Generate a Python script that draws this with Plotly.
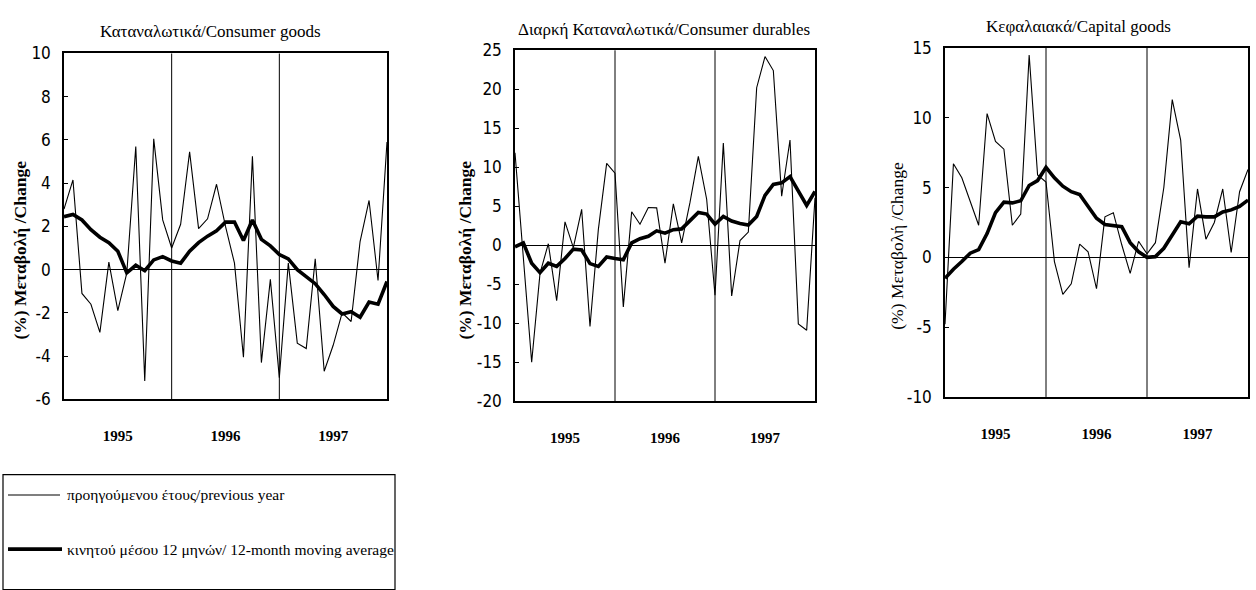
import plotly.graph_objects as go

W, H = 1256, 590

months = list(range(37))
year_ticks = [6, 18, 30]
year_labels = ["1995", "1996", "1997"]
year_bounds = [12, 24]

titles = ["Καταναλωτικά/Consumer goods",
          "Διαρκή Καταναλωτικά/Consumer durables",
          "Κεφαλαιακά/Capital goods"]
ytitle = "(%) Μεταβολή /Change"

consumer_yoy = [2.8, 4.15, -1.1, -1.6, -2.9, 0.35, -1.9, -0.15, 5.7, -5.15, 6.05, 2.3,
                1.0, 2.1, 5.45, 1.9, 2.35, 3.95, 2.0, 0.3, -4.05, 5.25, -4.3, -0.45,
                -5.0, 0.3, -3.4, -3.65, 0.5, -4.7, -3.5, -2.0, -2.4, 1.3, 3.2, -0.5, 5.9]
consumer_ma = [2.45, 2.55, 2.3, 1.85, 1.5, 1.25, 0.85, -0.15, 0.2, -0.05, 0.45, 0.6,
               0.4, 0.3, 0.85, 1.25, 1.55, 1.8, 2.2, 2.2, 1.35, 2.3, 1.4, 1.1,
               0.7, 0.5, 0.0, -0.35, -0.65, -1.15, -1.7, -2.05, -1.95, -2.2, -1.5, -1.6, -0.55]

durables_yoy = [11.85, -1.5, -15.0, -3.6, 0.2, -7.1, 3.0, -0.3, 4.6, -10.4, 2.0, 10.5,
                9.25, -7.9, 4.3, 2.7, 4.85, 4.8, -2.3, 5.3, 0.3, 5.5, 11.4, 5.9,
                -6.4, 13.1, -6.5, 0.6, 1.7, 20.2, 24.2, 22.4, 6.3, 13.5, -10.1, -10.9, 6.1]
durables_ma = [-0.2, 0.3, -2.3, -3.5, -2.3, -2.7, -1.7, -0.5, -0.6, -2.35, -2.7, -1.5,
               -1.7, -1.85, 0.3, 0.85, 1.15, 1.85, 1.55, 2.0, 2.1, 3.2, 4.2, 4.0,
               2.7, 3.7, 3.1, 2.8, 2.6, 3.7, 6.4, 7.8, 8.0, 8.8, 6.9, 5.1, 6.9]

capital_yoy = [-4.8, 6.7, 5.7, 4.0, 2.3, 10.3, 8.3, 7.75, 2.3, 3.1, 14.5, 5.9,
               5.4, -0.3, -2.65, -1.9, 0.95, 0.4, -2.25, 2.9, 3.2, 0.9, -1.15, 1.15,
               0.25, 1.05, 5.0, 11.3, 8.4, -0.75, 4.9, 1.3, 2.5, 4.9, 0.35, 4.7, 6.3]
capital_ma = [-1.5, -0.85, -0.3, 0.3, 0.55, 1.7, 3.2, 3.95, 3.9, 4.05, 5.15, 5.5,
              6.45, 5.7, 5.1, 4.7, 4.5, 3.6, 2.8, 2.35, 2.3, 2.2, 1.05, 0.4,
              0.0, 0.05, 0.65, 1.55, 2.55, 2.4, 2.95, 2.9, 2.9, 3.25, 3.4, 3.65, 4.1]

series = [(consumer_yoy, consumer_ma), (durables_yoy, durables_ma), (capital_yoy, capital_ma)]
y_ticks = [[-6, -4, -2, 0, 2, 4, 6, 8, 10],
           [-20, -15, -10, -5, 0, 5, 10, 15, 20, 25],
           [-10, -5, 0, 5, 10, 15]]

legend_labels = ["προηγούμενου έτους/previous year",
                 "κινητού μέσου 12 μηνών/ 12-month moving average"]

# pixel boxes of the three plot areas (left, right, top, bottom)
boxes = [(64, 387, 45, 403), (515, 815, 41.7, 405), (945, 1248, 39.3, 400.5)]
title_pos = [(210, 22), (664, 20), (1078, 17)]
ytitle_pos = [(20, 249, True), (465, 249, True), (897, 244, False)]

def px(x):
    return x / W

def py(y):
    return 1 - y / H

SERIF = "Liberation Serif, Times New Roman, serif"
NARROW = "Liberation Sans Narrow, DejaVu Sans Condensed, Arial Narrow, sans-serif"

fig = go.Figure()
layout = dict(width=W, height=H, margin=dict(l=0, r=0, t=0, b=0),
              paper_bgcolor="white", plot_bgcolor="white", showlegend=False)
shapes = []
annotations = []

for i, ((yoy, ma), yt, (l, r, t, b)) in enumerate(zip(series, y_ticks, boxes)):
    n = "" if i == 0 else str(i + 1)
    xa, ya = "x" + n, "y" + n
    fig.add_trace(go.Scatter(x=months, y=yoy, mode="lines", xaxis=xa, yaxis=ya,
                             line=dict(color="black", width=1.1), name=legend_labels[0]))
    fig.add_trace(go.Scatter(x=months, y=ma, mode="lines", xaxis=xa, yaxis=ya,
                             line=dict(color="black", width=3.6), name=legend_labels[1]))
    layout["xaxis" + n] = dict(domain=[px(l), px(r)], range=[0, 36], anchor=ya,
                               showgrid=False, zeroline=False, showline=True, mirror=True,
                               linecolor="black", linewidth=1.5, ticks="",
                               tickvals=year_ticks, ticktext=year_labels,
                               ticklabelstandoff=22,
                               tickfont=dict(family=SERIF, size=15, color="black",
                                             weight="bold"))
    layout["yaxis" + n] = dict(domain=[py(b), py(t)], range=[yt[0], yt[-1]], anchor=xa,
                               tickvals=yt, ticktext=[str(v) for v in yt], showgrid=False,
                               zeroline=True, zerolinecolor="black", zerolinewidth=1,
                               showline=True, mirror=True, linecolor="black", linewidth=1.5,
                               ticks="inside", ticklen=4, tickcolor="black",
                               ticklabelstandoff=8,
                               tickfont=dict(family=NARROW, size=17, color="black"))
    for xb in year_bounds:
        shapes.append(dict(type="line", xref=xa, yref=ya + " domain", x0=xb, x1=xb, y0=0, y1=1,
                           line=dict(color="black", width=1)))
    tx, ty = title_pos[i]
    annotations.append(dict(text=titles[i], x=px(tx), y=py(ty), xref="paper", yref="paper",
                            showarrow=False, xanchor="center", yanchor="middle",
                            font=dict(family=SERIF, size=17, color="black")))
    yx, yy, bold = ytitle_pos[i]
    annotations.append(dict(text=("<b>%s</b>" % ytitle) if bold else ytitle,
                            x=px(yx), y=py(yy), xref="paper", yref="paper",
                            showarrow=False, textangle=-90, xanchor="center", yanchor="middle",
                            font=dict(family=SERIF, size=17.5, color="black")))

# legend box drawn by hand
shapes.append(dict(type="rect", xref="paper", yref="paper", x0=px(3), x1=px(395),
                   y0=py(600), y1=py(481), line=dict(color="black", width=1.2)))
shapes.append(dict(type="line", xref="paper", yref="paper", x0=px(8), x1=px(60),
                   y0=py(502), y1=py(502), line=dict(color="black", width=1.1)))
shapes.append(dict(type="line", xref="paper", yref="paper", x0=px(8), x1=px(62),
                   y0=py(558), y1=py(558), line=dict(color="black", width=3.6)))
for lab, yy in zip(legend_labels, [502, 558]):
    annotations.append(dict(text=lab, x=px(65), y=py(yy), xref="paper", yref="paper",
                            showarrow=False, xanchor="left", yanchor="middle",
                            font=dict(family=SERIF, size=15.5, color="black")))

layout["shapes"] = shapes
layout["annotations"] = annotations
fig.update_layout(**layout)

fig.write_html("out.html", config={"displayModeBar": False},
               post_script="document.body.style.margin='0';")
